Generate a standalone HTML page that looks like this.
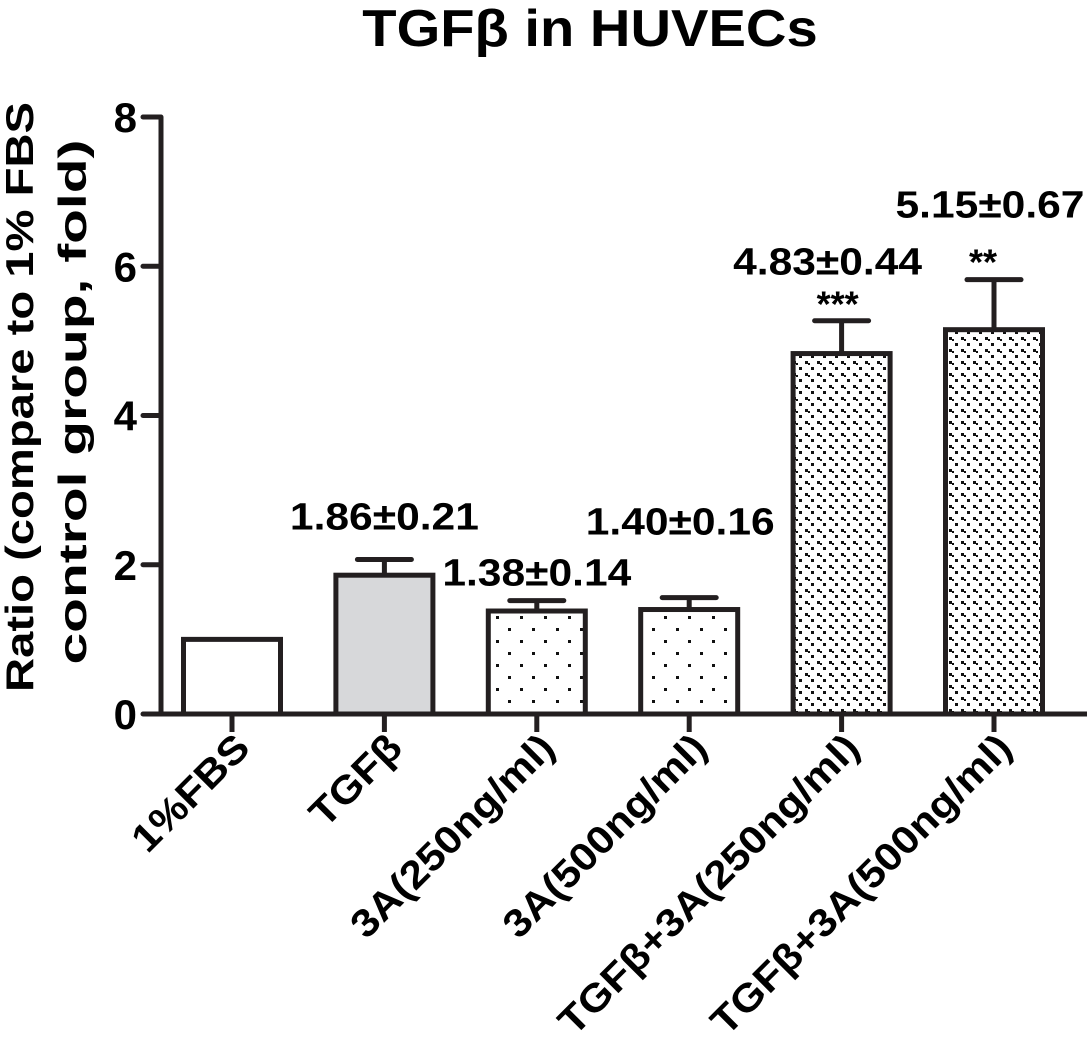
<!DOCTYPE html>
<html><head><meta charset="utf-8"><style>
html,body{margin:0;padding:0;background:#fff;}
svg{display:block;font-family:"Liberation Sans",Arial,sans-serif;font-weight:bold;}
</style></head><body>
<svg id="chart" width="1087" height="1049" viewBox="0 0 1087 1049" xmlns="http://www.w3.org/2000/svg">
<defs>
<pattern id="dots" width="24" height="24" patternUnits="userSpaceOnUse">
<rect x="4" y="4" width="3" height="3" fill="#111"/><rect x="16" y="16" width="3" height="3" fill="#111"/>
</pattern>
<pattern id="dense" width="12" height="12" patternUnits="userSpaceOnUse">
<rect x="1" y="1" width="3" height="3" fill="#111"/><rect x="7" y="7" width="3" height="3" fill="#111"/><rect x="4" y="3" width="2" height="2" fill="#111"/>
</pattern>
</defs>
<text transform="translate(590,46) scale(1.08,1)" font-size="52" text-anchor="middle">TGFβ in HUVECs</text>
<g font-size="39" text-anchor="middle">
<text transform="translate(33,397) rotate(-90)" textLength="590" lengthAdjust="spacingAndGlyphs">Ratio (compare to 1% FBS</text>
<text transform="translate(86,402) rotate(-90)" textLength="525" lengthAdjust="spacingAndGlyphs">control group, fold)</text>
</g>
<g id="marks"></g>
</svg>
<script>
const categories=["1%FBS","TGFβ","3A(250ng/ml)","3A(500ng/ml)","TGFβ+3A(250ng/ml)","TGFβ+3A(500ng/ml)"];
const values=[1.0,1.86,1.38,1.40,4.83,5.15];
const errors=[0,0.21,0.14,0.16,0.44,0.67];
const valueLabels=["","1.86±0.21","1.38±0.14","1.40±0.16","4.83±0.44","5.15±0.67"];
const stars=["","","","","***","**"];
const yTicks=[0,2,4,6,8];
const fills=["#fff","#d7d8da","url(#dots)","url(#dots)","url(#dense)","url(#dense)"];

const NS="http://www.w3.org/2000/svg";
const g=document.getElementById("marks");
const y=v=>714-v*74.625;
const x=i=>232+152.4*i;
const BW=97;
const AX=161;
function mk(tag,attrs,txt){const e=document.createElementNS(NS,tag);for(const k in attrs)e.setAttribute(k,attrs[k]);if(txt!==undefined)e.textContent=txt;g.appendChild(e);return e;}

let ax=mk("line",{x1:AX,y1:y(8),x2:AX,y2:y(0)+2,stroke:"#231f20","stroke-width":5});


let xl=mk("line",{x1:143,y1:y(0),x2:1087,y2:y(0),stroke:"#231f20","stroke-width":5});


yTicks.forEach(t=>{
  let tk=mk("line",{x1:143,y1:y(t),x2:AX,y2:y(t),stroke:"#231f20","stroke-width":5,"stroke-linecap":"round"});
  
  
  let tl=mk("text",{x:137,y:y(t)+15,"font-size":42,"text-anchor":"end"},String(t));
  
  
});
categories.forEach((c,i)=>{
  const cx=x(i);
  let b=mk("rect",{x:cx-BW/2,y:y(values[i]),width:BW,height:y(0)-y(values[i]),fill:fills[i],stroke:"#231f20","stroke-width":5});
  
  
  if(errors[i]>0){
    let e1=mk("line",{x1:cx,y1:y(values[i]),x2:cx,y2:y(values[i]+errors[i]),stroke:"#231f20","stroke-width":5});
    
    
    let e2=mk("line",{x1:cx-27,y1:y(values[i]+errors[i]),x2:cx+27,y2:y(values[i]+errors[i]),stroke:"#231f20","stroke-width":5,"stroke-linecap":"round"});
    
    
  }
  let xt=mk("line",{x1:cx,y1:y(0),x2:cx,y2:y(0)+18,stroke:"#231f20","stroke-width":5});
  
  
  let lab=mk("text",{"font-size":39,"text-anchor":"end",transform:`translate(${cx+20},${y(0)+36}) rotate(-45) scale(1.1,1)`},c);
  
  
});
const lblOff=[[0,0],[0,-30],[0,-15],[-9,-63],[-14,-46],[-4,-62]];
valueLabels.forEach((s,i)=>{
  if(!s)return;
  const top=y(values[i]+errors[i]);
  let t=mk("text",{transform:`translate(${x(i)+lblOff[i][0]},${top+lblOff[i][1]}) scale(1.12,1)`,"font-size":38,"text-anchor":"middle"},s);
  
  
  if(stars[i]){
    let st=mk("text",{x:x(i)+(i===5?-11:-4),y:top+(i===5?-5:-4),"font-size":36,"text-anchor":"middle"},stars[i]);
    
    
  }
});
</script>
</body></html>
